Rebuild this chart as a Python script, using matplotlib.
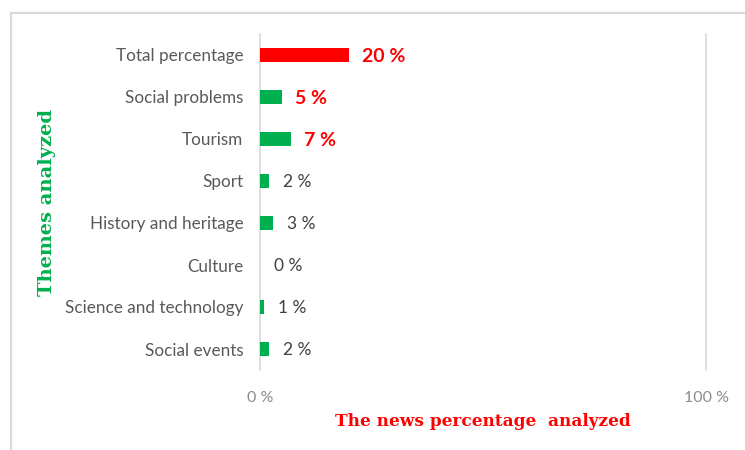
import matplotlib.pyplot as plt
from matplotlib.patches import Rectangle

# data (bottom to top, as drawn)
themes = [
    "Social events",
    "Science and technology",
    "Culture",
    "History and heritage",
    "Sport",
    "Tourism",
    "Social problems",
    "Total percentage",
]
percent = [2, 1, 0, 3, 2, 7, 5, 20]
bar_colors = ["#00B050"] * 7 + ["#FF0000"]
highlight = [False, False, False, False, False, True, True, True]

GREEN = "#00B050"
RED = "#FF0000"

fig = plt.figure(figsize=(7.45, 4.5), dpi=100)
ax = fig.add_axes([260 / 745, 1 - 370 / 450, 446 / 745, 336 / 450])

ypos = list(range(len(themes)))
ax.barh(ypos, percent, height=0.32, color=bar_colors, zorder=3)

# value labels
for y, v, hl in zip(ypos, percent, highlight):
    if hl:
        ax.annotate(f"{v} %", (v, y), xytext=(9.4, -1), textcoords="offset points",
                    ha="left", va="center", color=RED, fontsize=14,
                    fontweight="bold", family="Lato")
    else:
        ax.annotate(f"{v} %", (v, y), xytext=(9.8, -1), textcoords="offset points",
                    ha="left", va="center", color="#404040", fontsize=12.5,
                    family="Lato")

ax.set_xlim(0, 100)
ax.set_ylim(-0.5, len(themes) - 0.5)
ax.set_xticks([0, 100])
ax.set_xticklabels(["0 %", "100 %"], family="Lato", fontsize=11.5, color="#8C8C8C")
ax.set_yticks(ypos)
ax.set_yticklabels(themes, family="Lato", fontsize=12.3, color="#595959")
ax.tick_params(axis="both", length=0)
ax.tick_params(axis="x", pad=15)
ax.tick_params(axis="y", pad=12)
ax.grid(axis="x", color="#D9D9D9", linewidth=1.2, zorder=0)
for gl in ax.get_xgridlines():
    gl.set_clip_on(False)
for s in ax.spines.values():
    s.set_visible(False)

fig.text(483 / 745, 1 - 421 / 450, "The news percentage  analyzed", ha="center",
         va="center", color=RED, fontsize=12.2, fontweight="bold",
         family="DejaVu Serif")
fig.text(47 / 745, 1 - 202 / 450, "Themes analyzed", ha="center", va="center",
         rotation=90, color=GREEN, fontsize=14, fontweight="bold",
         family="DejaVu Serif")

# chart area border (only left and top are inside the picture)
fig.patches.append(Rectangle((10.5 / 745, -0.1), 1.2, 1 - 12.5 / 450 + 0.1,
                             transform=fig.transFigure, fill=False,
                             edgecolor="#D9D9D9", linewidth=1.5))

fig.savefig("out.png", dpi=100)
